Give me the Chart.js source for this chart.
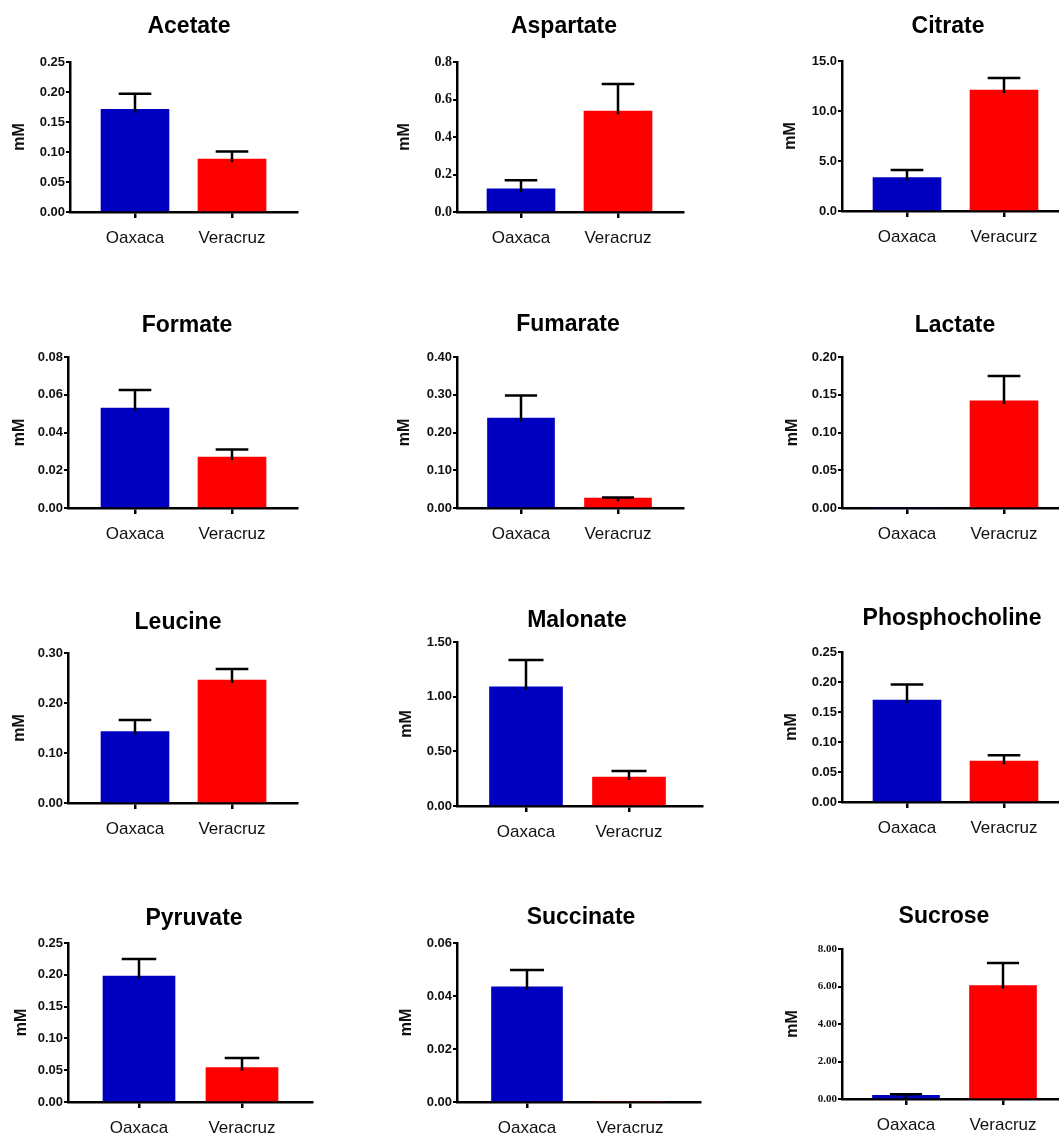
<!DOCTYPE html>
<html>
<head>
<meta charset="utf-8">
<script src="https://cdn.jsdelivr.net/npm/chart.js@4.4.1/dist/chart.umd.min.js"></script>
<style>
    html, body { margin: 0; padding: 0; background: #fff; overflow: hidden; }
    body { width: 1059px; height: 1133px; position: relative; }
    canvas { position: absolute; }
</style>
</head>
<body>
<script>
// =========================
// DADOS
// =========================

const metabolitos = ['Acetate', 'Aspartate', 'Citrate', 'Formate', 'Fumarate', 'Lactate',
    'Leucine', 'Malonate', 'Phosphocholine', 'Pyruvate', 'Succinate', 'Sucrose'];

const categorias = ['Oaxaca', 'Veracruz'];
const categoriasCitrate = ['Oaxaca', 'Veracurz'];

const mediaOaxaca   = [0.171, 0.123, 3.35, 0.053, 0.238, 0,     0.143, 1.09,  0.170, 0.198, 0.0435, 0.20];
const erroOaxaca    = [0.026, 0.047, 0.75, 0.0095, 0.060, 0,    0.023, 0.245, 0.026, 0.027, 0.0063, 0.05];
const mediaVeracruz = [0.088, 0.538, 12.1, 0.027, 0.026, 0.142, 0.246, 0.265, 0.068, 0.054, 0,      6.05];
const erroVeracruz  = [0.013, 0.145, 1.2,  0.004, 0.002, 0.033, 0.022, 0.055, 0.010, 0.015, 0,      1.2];

const yMax      = [0.25, 0.8, 15, 0.08, 0.40, 0.20, 0.30, 1.50, 0.25, 0.25, 0.06, 8];
const yPasso    = [0.05, 0.2, 5,  0.02, 0.10, 0.05, 0.10, 0.50, 0.05, 0.05, 0.02, 2];
const yDecimais = [2,    1,   1,  2,    2,    2,    2,    2,    2,    2,    2,    2];

// =========================
// POSIÇÕES (px na página)
// =========================

const geometria = [
    { eixo: 70,  dir: 297,  topo: 62,  base: 212,  t0: 135, t1: 232,  barra: 68, tx: 189, ty: 33,  mM: 20 },
    { eixo: 457, dir: 683,  topo: 62,  base: 212,  t0: 521, t1: 618,  barra: 68, tx: 564, ty: 33,  mM: 405, serifa: true },
    { eixo: 842, dir: 1062, topo: 61,  base: 211,  t0: 907, t1: 1004, barra: 68, tx: 948, ty: 33,  mM: 791 },
    { eixo: 68,  dir: 297,  topo: 357, base: 508,  t0: 135, t1: 232,  barra: 68, tx: 187, ty: 332, mM: 20 },
    { eixo: 457, dir: 683,  topo: 357, base: 508,  t0: 521, t1: 618,  barra: 67, tx: 568, ty: 331, mM: 405 },
    { eixo: 842, dir: 1062, topo: 357, base: 508,  t0: 907, t1: 1004, barra: 68, tx: 955, ty: 332, mM: 793 },
    { eixo: 68,  dir: 297,  topo: 653, base: 803,  t0: 135, t1: 232,  barra: 68, tx: 178, ty: 629, mM: 20 },
    { eixo: 457, dir: 702,  topo: 642, base: 806,  t0: 526, t1: 629,  barra: 73, tx: 577, ty: 627, mM: 407 },
    { eixo: 842, dir: 1062, topo: 652, base: 802,  t0: 907, t1: 1004, barra: 68, tx: 952, ty: 625, mM: 792 },
    { eixo: 68,  dir: 312,  topo: 943, base: 1102, t0: 139, t1: 242,  barra: 72, tx: 194, ty: 925, mM: 22 },
    { eixo: 457, dir: 700,  topo: 943, base: 1102, t0: 527, t1: 630,  barra: 71, tx: 581, ty: 924, mM: 407 },
    { eixo: 842, dir: 1062, topo: 949, base: 1099, t0: 906, t1: 1003, barra: 67, tx: 944, ty: 923, mM: 793, serifa: true, pequeno: true }
];

const azul = '#0000C0';
const vermelho = '#FF0000';

// =========================
// PLUGINS
// =========================

const pluginErro = {
    id: 'barrasErro',
    afterDatasetsDraw(chart, args, opts) {
        const i = opts.indice;
        const medias = [mediaOaxaca[i], mediaVeracruz[i]];
        const erros = [erroOaxaca[i], erroVeracruz[i]];
        const y = chart.scales.y;
        const ctx = chart.ctx;

        ctx.save();
        ctx.strokeStyle = '#000';
        ctx.lineWidth = 2.5;

        chart.getDatasetMeta(0).data.forEach((barra, k) => {
            if (!erros[k]) return;
            const yTopo = y.getPixelForValue(medias[k] + erros[k]);
            const meio = barra.width * 0.24;
            ctx.beginPath();
            ctx.moveTo(barra.x, barra.y + 3);
            ctx.lineTo(barra.x, yTopo);
            ctx.moveTo(barra.x - meio, yTopo);
            ctx.lineTo(barra.x + meio, yTopo);
            ctx.stroke();
        });

        ctx.restore();
    }
};

const pluginTitulo = {
    id: 'tituloPainel',
    afterDraw(chart, args, opts) {
        const ctx = chart.ctx;
        ctx.save();
        ctx.font = 'bold 23px "Liberation Sans", Arial, sans-serif';
        ctx.fillStyle = '#000';
        ctx.textAlign = 'center';
        ctx.textBaseline = 'alphabetic';
        ctx.fillText(opts.texto, opts.x, opts.y);
        ctx.restore();
    }
};

// =========================
// GRÁFICOS
// =========================

function criarGrafico(i) {

    const g = geometria[i];
    const esq = g.eixo - 68;
    const topo = g.ty - 30;
    const largura = g.dir - esq + (g.dir > 1059 ? 0 : 10);
    const altura = g.base - topo + 45;

    const canvas = document.createElement('canvas');
    canvas.width = largura;
    canvas.height = altura;
    canvas.style.left = esq + 'px';
    canvas.style.top = topo + 'px';
    canvas.style.width = largura + 'px';
    canvas.style.height = altura + 'px';
    document.body.appendChild(canvas);

    const espaco = g.t1 - g.t0;
    const rotulos = metabolitos[i] === 'Citrate' ? categoriasCitrate : categorias;

    const fonteY = g.serifa
        ? { family: '"Liberation Serif", "Times New Roman", serif', size: g.pequeno ? 11 : 14, weight: 'bold' }
        : { family: '"Liberation Sans", Arial, sans-serif', size: 13, weight: 'bold' };

    new Chart(canvas, {
        type: 'bar',
        data: {
            datasets: [{
                data: [
                    { x: 0, y: mediaOaxaca[i] },
                    { x: 1, y: mediaVeracruz[i] }
                ],
                backgroundColor: [azul, vermelho],
                barThickness: g.barra,
                borderWidth: 0
            }]
        },
        options: {
            responsive: false,
            animation: false,
            devicePixelRatio: 1,
            layout: {
                padding: { top: g.topo - topo, left: 0, right: largura - (g.dir - esq), bottom: 0 }
            },
            plugins: {
                legend: { display: false },
                tooltip: { enabled: false },
                barrasErro: { indice: i },
                tituloPainel: { texto: metabolitos[i], x: g.tx - esq, y: g.ty - topo }
            },
            scales: {
                x: {
                    type: 'linear',
                    offset: false,
                    bounds: 'data',
                    z: 1,
                    min: -(g.t0 - g.eixo) / espaco,
                    max: 1 + (g.dir - g.t1) / espaco,
                    afterBuildTicks: s => { s.ticks = [{ value: 0 }, { value: 1 }]; },
                    afterFit: s => { s.height = 45; },
                    ticks: {
                        callback: v => rotulos[v],
                        autoSkip: false,
                        maxRotation: 0,
                        padding: 10,
                        color: '#111',
                        font: { family: '"Liberation Sans", Arial, sans-serif', size: 17 }
                    },
                    grid: {
                        drawOnChartArea: false,
                        offset: false,
                        tickLength: 6,
                        color: '#000',
                        lineWidth: 2.5
                    },
                    border: { color: '#000', width: 2.5 }
                },
                y: {
                    z: 1,
                    min: 0,
                    max: yMax[i],
                    afterFit: s => { s.width = 68; },
                    ticks: {
                        stepSize: yPasso[i],
                        callback: v => v.toFixed(yDecimais[i]),
                        padding: 1,
                        color: '#111',
                        font: fonteY
                    },
                    grid: {
                        drawOnChartArea: false,
                        tickLength: 4,
                        color: '#000',
                        lineWidth: 2
                    },
                    border: { color: '#000', width: 2.5 },
                    title: {
                        display: true,
                        text: 'mM',
                        color: '#111',
                        font: { family: '"Liberation Sans", Arial, sans-serif', size: 16, weight: 'bold' },
                        padding: { top: g.mM - esq - 9.6, bottom: 0 }
                    }
                }
            }
        },
        plugins: [pluginErro, pluginTitulo]
    });
}

metabolitos.forEach((m, i) => criarGrafico(i));
</script>
</body>
</html>
